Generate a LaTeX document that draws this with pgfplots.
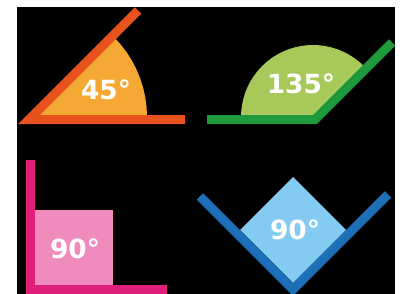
\documentclass[border=0pt]{standalone}
\usepackage{pgfplots}
\pgfplotsset{compat=1.18}
\usepackage{fontspec}
\setmainfont{DejaVu Sans}
\definecolor{orline}{HTML}{E8521D}
\definecolor{orfill}{HTML}{F6A834}
\definecolor{grline}{HTML}{1E9A3C}
\definecolor{grfill}{HTML}{A6C95A}
\definecolor{pkline}{HTML}{E01F7B}
\definecolor{pkfill}{HTML}{F08BBD}
\definecolor{blline}{HTML}{1D70B8}
\definecolor{blfill}{HTML}{84CBF1}
\tikzset{lbl/.style={text=white, font=\bfseries\fontsize{26.5}{30}\selectfont, inner sep=0pt, anchor=center}}
\begin{document}
\begin{tikzpicture}
\begin{axis}[
  width=408bp, height=294bp, scale only axis,
  xmin=0, xmax=408, ymin=0, ymax=294,
  y dir=reverse, hide axis, clip=true,
  every axis plot/.append style={line join=miter, line cap=butt}
]
% background
\addplot[fill=white, draw=none] coordinates {(0,0) (408,0) (408,294) (0,294)} --cycle;
\addplot[fill=black, draw=none] coordinates {(17,7) (395,7) (395,294) (17,294)} --cycle;
% 45 degree sector
\addplot[fill=orfill, draw=none] coordinates {
  (34,117) (147,117) (146.57,107.15) (145.28,97.38) (143.15,87.76) (140.19,78.35)
  (136.41,69.25) (131.86,60.5) (126.57,52.18) (120.56,44.36) (113.90,37.10)} --cycle;
% 135 degree sector
\addplot[fill=grfill, draw=none] coordinates {
  (313,117) (363.91,66.09) (359.28,61.85) (354.30,58.02) (349,54.65) (343.43,51.75)
  (337.62,49.34) (331.63,47.46) (325.50,46.09) (319.28,45.27) (313,45)
  (306.72,45.27) (300.50,46.09) (294.37,47.46) (288.38,49.34) (282.57,51.75)
  (277,54.65) (271.70,58.02) (266.72,61.85) (262.09,66.09) (257.85,70.72)
  (254.02,75.70) (250.65,81) (247.75,86.57) (245.34,92.38) (243.46,98.37)
  (242.09,104.5) (241.27,110.72) (241,117)} --cycle;
% 90 degree square
\addplot[fill=pkfill, draw=none] coordinates {(35,210) (113,210) (113,289) (35,289)} --cycle;
% 90 degree diamond
\addplot[fill=blfill, draw=none] coordinates {(293,177) (346,230) (293,283) (240,230)} --cycle;
% arms
\addplot[draw=orline, line width=9bp] coordinates {(185,119.5) (29,119.5) (138,10.5)};
\addplot[draw=grline, line width=9bp] coordinates {(207,119.5) (315,119.5) (392,42.5)};
\addplot[draw=pkline, line width=9bp] coordinates {(30.5,160) (30.5,289.5) (167,289.5)};
\addplot[draw=blline, line width=9bp] coordinates {(200,196.4) (293,289.4) (388,194.4)};
% labels
\node[lbl] at (axis cs:106,90) {45°};
\node[lbl] at (axis cs:301,83.3) {135°};
\node[lbl] at (axis cs:75,248.7) {90°};
\node[lbl] at (axis cs:295,230) {90°};
\end{axis}
\pgfresetboundingbox
\path[use as bounding box] (current axis.south west) rectangle (current axis.north east);
\end{tikzpicture}
\end{document}
